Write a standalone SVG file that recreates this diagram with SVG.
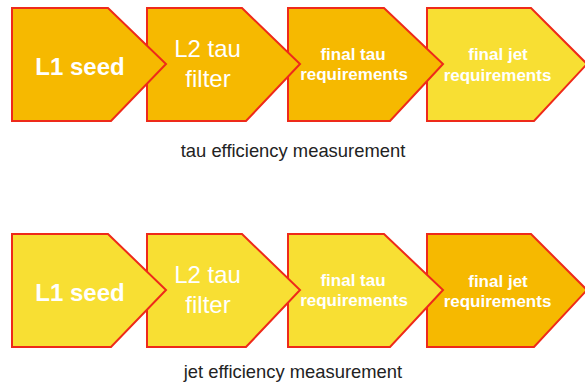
<svg xmlns="http://www.w3.org/2000/svg" width="585" height="390" viewBox="0 0 585 390">
<style>
.orange{fill:#F6B900;stroke:#EE2A1A;stroke-width:2;stroke-linejoin:miter}
.yellow{fill:#F8DF33;stroke:#EE2A1A;stroke-width:2;stroke-linejoin:miter}
text{font-family:"Liberation Sans",Arial,Helvetica,sans-serif;text-anchor:middle}
.big{fill:#fff;font-size:24px}
.bold{font-weight:bold}
.small{fill:#fff;font-size:17px;font-weight:bold}
.cap{fill:#222;font-size:18.4px}
</style>
<rect width="585" height="390" fill="#fff"/>
<g id="row-tau">
<g id="tau-final-jet"><polygon class="yellow" points="427,8 531,8 587,64 534,121 427,121"/><text class="small" x="498" y="60">final jet</text><text class="small" x="497.5" y="81">requirements</text></g>
<g id="tau-final-tau"><polygon class="orange" points="288,8 384,8 443,64 390,121 288,121"/><text class="small" x="353" y="59.5">final tau</text><text class="small" x="354" y="80">requirements</text></g>
<g id="tau-l2"><polygon class="orange" points="147,8 242,8 300,64 246,121 147,121"/><text class="big" x="207.5" y="57.3">L2 tau</text><text class="big" x="208" y="86.7">filter</text></g>
<g id="tau-l1"><polygon class="orange" points="12,8 108,8 166,64 111,121 12,121"/><text class="big bold" x="80" y="75">L1 seed</text></g>
<text class="cap" x="293" y="156.5">tau efficiency measurement</text>
</g>
<g id="row-jet">
<g id="jet-final-jet"><polygon class="orange" points="427,234 531,234 587,290 534,347 427,347"/><text class="small" x="498" y="286.5">final jet</text><text class="small" x="497.5" y="307.3">requirements</text></g>
<g id="jet-final-tau"><polygon class="yellow" points="288,234 384,234 443,290 390,347 288,347"/><text class="small" x="353" y="285.5">final tau</text><text class="small" x="354" y="306">requirements</text></g>
<g id="jet-l2"><polygon class="yellow" points="147,234 242,234 300,290 246,347 147,347"/><text class="big" x="207.5" y="283.3">L2 tau</text><text class="big" x="208" y="312.7">filter</text></g>
<g id="jet-l1"><polygon class="yellow" points="12,234 108,234 166,290 111,347 12,347"/><text class="big bold" x="80" y="301">L1 seed</text></g>
<text class="cap" x="293" y="378">jet efficiency measurement</text>
</g>
<g id="connectors"/>
</svg>
